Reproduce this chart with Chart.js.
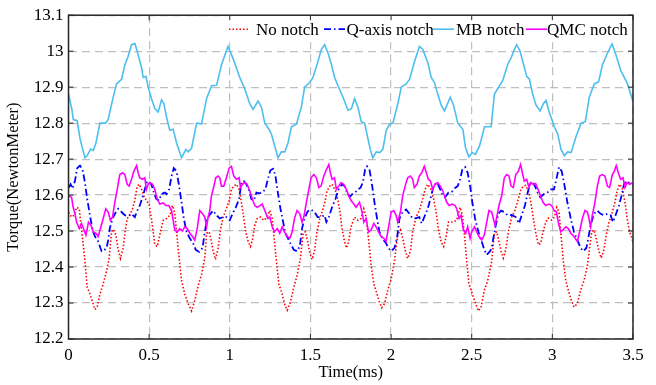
<!DOCTYPE html>
<html>
<head>
<meta charset="utf-8">
<script src="https://cdn.jsdelivr.net/npm/chart.js@4.4.1/dist/chart.umd.min.js"></script>
<style>
  html, body { margin: 0; padding: 0; background: #fff; }
</style>
</head>
<body>
<canvas id="chart" width="656" height="385"></canvas>
<script>
// tick values
const xTicks = [0, 0.5, 1, 1.5, 2, 2.5, 3, 3.5];
const yTicks = [12.2, 12.3, 12.4, 12.5, 12.6, 12.7, 12.8, 12.9, 13, 13.1];
const seriesNames = ['No notch', 'Q-axis notch', 'MB notch', 'QMC notch'];

// [time (ms), torque]
const noNotch = [[0,12.552],[0.019,12.539],[0.034,12.544],[0.05,12.566],[0.067,12.562],[0.075,12.525],[0.087,12.48],[0.102,12.416],[0.116,12.344],[0.133,12.325],[0.149,12.303],[0.164,12.282],[0.178,12.289],[0.195,12.325],[0.215,12.353],[0.236,12.389],[0.252,12.425],[0.267,12.498],[0.277,12.505],[0.294,12.489],[0.308,12.448],[0.322,12.424],[0.339,12.453],[0.351,12.498],[0.364,12.535],[0.38,12.544],[0.397,12.562],[0.411,12.585],[0.426,12.625],[0.438,12.63],[0.453,12.616],[0.467,12.598],[0.483,12.585],[0.5,12.575],[0.514,12.535],[0.525,12.498],[0.535,12.462],[0.55,12.457],[0.566,12.489],[0.587,12.53],[0.608,12.535],[0.629,12.544],[0.645,12.571],[0.659,12.548],[0.67,12.498],[0.686,12.425],[0.701,12.362],[0.721,12.325],[0.742,12.298],[0.763,12.278],[0.783,12.307],[0.804,12.348],[0.825,12.38],[0.845,12.425],[0.856,12.494],[0.872,12.498],[0.886,12.471],[0.897,12.444],[0.911,12.421],[0.928,12.453],[0.942,12.503],[0.959,12.539],[0.979,12.562],[0.996,12.585],[1.01,12.616],[1.025,12.625],[1.041,12.63],[1.058,12.616],[1.072,12.58],[1.087,12.535],[1.099,12.498],[1.114,12.471],[1.128,12.457],[1.14,12.475],[1.155,12.516],[1.17,12.535],[1.19,12.539],[1.211,12.53],[1.232,12.539],[1.248,12.557],[1.263,12.535],[1.273,12.489],[1.289,12.416],[1.304,12.353],[1.325,12.325],[1.339,12.298],[1.356,12.28],[1.376,12.303],[1.397,12.344],[1.417,12.376],[1.438,12.425],[1.455,12.494],[1.469,12.498],[1.483,12.471],[1.496,12.439],[1.51,12.421],[1.525,12.444],[1.541,12.498],[1.558,12.535],[1.572,12.553],[1.587,12.575],[1.603,12.612],[1.62,12.625],[1.634,12.63],[1.655,12.612],[1.669,12.589],[1.682,12.557],[1.696,12.507],[1.711,12.471],[1.723,12.453],[1.737,12.471],[1.752,12.512],[1.773,12.539],[1.794,12.53],[1.814,12.535],[1.831,12.562],[1.845,12.539],[1.86,12.48],[1.876,12.407],[1.893,12.353],[1.913,12.325],[1.928,12.303],[1.942,12.287],[1.959,12.298],[1.979,12.335],[2,12.366],[2.021,12.416],[2.041,12.489],[2.058,12.503],[2.072,12.48],[2.087,12.448],[2.103,12.424],[2.12,12.444],[2.134,12.498],[2.155,12.539],[2.175,12.557],[2.196,12.589],[2.211,12.616],[2.227,12.63],[2.248,12.616],[2.264,12.589],[2.279,12.553],[2.293,12.507],[2.31,12.471],[2.326,12.457],[2.341,12.484],[2.356,12.525],[2.38,12.525],[2.407,12.53],[2.428,12.566],[2.442,12.544],[2.455,12.489],[2.469,12.416],[2.483,12.353],[2.504,12.325],[2.521,12.303],[2.541,12.278],[2.558,12.289],[2.578,12.335],[2.599,12.362],[2.624,12.416],[2.64,12.494],[2.655,12.498],[2.669,12.471],[2.682,12.444],[2.696,12.425],[2.711,12.448],[2.727,12.498],[2.748,12.539],[2.768,12.557],[2.789,12.589],[2.805,12.616],[2.82,12.625],[2.834,12.627],[2.851,12.612],[2.867,12.58],[2.882,12.535],[2.896,12.498],[2.913,12.462],[2.928,12.466],[2.942,12.498],[2.959,12.525],[2.975,12.536],[2.996,12.53],[3.012,12.539],[3.027,12.566],[3.041,12.553],[3.052,12.498],[3.066,12.425],[3.083,12.362],[3.099,12.335],[3.114,12.312],[3.134,12.289],[3.155,12.298],[3.175,12.335],[3.196,12.362],[3.217,12.403],[3.231,12.453],[3.244,12.498],[3.258,12.503],[3.272,12.48],[3.289,12.444],[3.303,12.425],[3.32,12.448],[3.334,12.489],[3.351,12.525],[3.367,12.544],[3.388,12.58],[3.402,12.612],[3.417,12.63],[3.433,12.62],[3.45,12.58],[3.464,12.535],[3.479,12.498],[3.5,12.47]];

const qAxisNotch = [[0,12.62],[0.013,12.63],[0.025,12.618],[0.04,12.639],[0.054,12.675],[0.071,12.682],[0.087,12.671],[0.102,12.635],[0.116,12.589],[0.133,12.544],[0.149,12.503],[0.164,12.485],[0.184,12.471],[0.205,12.444],[0.219,12.446],[0.236,12.453],[0.246,12.475],[0.256,12.507],[0.273,12.535],[0.294,12.553],[0.308,12.562],[0.329,12.553],[0.349,12.544],[0.37,12.542],[0.391,12.548],[0.411,12.539],[0.426,12.557],[0.442,12.571],[0.459,12.594],[0.473,12.616],[0.488,12.639],[0.5,12.635],[0.514,12.63],[0.529,12.607],[0.545,12.589],[0.562,12.585],[0.576,12.603],[0.597,12.607],[0.608,12.603],[0.624,12.616],[0.639,12.653],[0.653,12.675],[0.67,12.666],[0.686,12.625],[0.701,12.58],[0.715,12.535],[0.732,12.498],[0.752,12.48],[0.773,12.466],[0.789,12.448],[0.81,12.442],[0.831,12.453],[0.845,12.498],[0.86,12.535],[0.88,12.548],[0.897,12.557],[0.917,12.544],[0.938,12.535],[0.959,12.539],[0.979,12.539],[1,12.53],[1.017,12.548],[1.037,12.566],[1.058,12.589],[1.072,12.635],[1.087,12.639],[1.103,12.63],[1.12,12.612],[1.134,12.589],[1.149,12.585],[1.165,12.607],[1.185,12.605],[1.201,12.607],[1.221,12.616],[1.236,12.644],[1.252,12.669],[1.269,12.673],[1.283,12.653],[1.298,12.607],[1.314,12.562],[1.331,12.525],[1.345,12.494],[1.366,12.475],[1.38,12.462],[1.397,12.448],[1.417,12.444],[1.434,12.457],[1.448,12.507],[1.463,12.535],[1.483,12.555],[1.504,12.56],[1.525,12.553],[1.545,12.539],[1.566,12.539],[1.587,12.544],[1.599,12.525],[1.614,12.539],[1.634,12.566],[1.655,12.589],[1.675,12.616],[1.696,12.63],[1.711,12.625],[1.727,12.607],[1.745,12.596],[1.765,12.605],[1.777,12.607],[1.794,12.616],[1.81,12.62],[1.825,12.635],[1.839,12.671],[1.851,12.68],[1.866,12.671],[1.88,12.635],[1.897,12.58],[1.913,12.535],[1.928,12.498],[1.948,12.478],[1.969,12.466],[1.983,12.453],[2,12.444],[2.021,12.453],[2.037,12.48],[2.052,12.535],[2.072,12.553],[2.093,12.56],[2.114,12.548],[2.134,12.535],[2.155,12.536],[2.175,12.539],[2.19,12.521],[2.206,12.539],[2.227,12.562],[2.244,12.589],[2.264,12.625],[2.285,12.635],[2.305,12.616],[2.32,12.598],[2.335,12.594],[2.356,12.607],[2.376,12.609],[2.397,12.62],[2.413,12.625],[2.428,12.644],[2.442,12.671],[2.459,12.678],[2.475,12.662],[2.49,12.625],[2.504,12.58],[2.521,12.535],[2.541,12.498],[2.562,12.471],[2.578,12.448],[2.593,12.434],[2.614,12.444],[2.624,12.453],[2.634,12.48],[2.649,12.516],[2.665,12.548],[2.682,12.557],[2.702,12.553],[2.723,12.544],[2.748,12.545],[2.773,12.539],[2.793,12.521],[2.81,12.544],[2.83,12.571],[2.847,12.607],[2.861,12.63],[2.876,12.635],[2.892,12.625],[2.909,12.607],[2.925,12.594],[2.948,12.603],[2.969,12.607],[2.99,12.616],[3.01,12.616],[3.025,12.644],[3.041,12.678],[3.058,12.666],[3.072,12.635],[3.093,12.58],[3.114,12.535],[3.134,12.498],[3.155,12.475],[3.175,12.453],[3.192,12.444],[3.211,12.453],[3.223,12.48],[3.237,12.516],[3.258,12.548],[3.279,12.557],[3.299,12.548],[3.32,12.544],[3.341,12.548],[3.361,12.544],[3.376,12.525],[3.392,12.544],[3.413,12.571],[3.429,12.598],[3.444,12.63],[3.458,12.639],[3.475,12.635],[3.5,12.63]];

const mbNotch = [[0,12.881],[0.02,12.84],[0.03,12.81],[0.054,12.807],[0.071,12.758],[0.088,12.727],[0.102,12.704],[0.116,12.71],[0.137,12.728],[0.154,12.724],[0.17,12.745],[0.195,12.8],[0.23,12.8],[0.246,12.81],[0.277,12.872],[0.298,12.909],[0.329,12.922],[0.35,12.963],[0.37,12.986],[0.391,13.018],[0.412,13.021],[0.432,12.99],[0.453,12.954],[0.463,12.927],[0.48,12.93],[0.494,12.9],[0.515,12.868],[0.536,12.84],[0.556,12.831],[0.577,12.865],[0.591,12.854],[0.612,12.808],[0.628,12.78],[0.649,12.783],[0.67,12.745],[0.701,12.704],[0.728,12.727],[0.742,12.72],[0.763,12.73],[0.794,12.8],[0.825,12.798],[0.856,12.868],[0.887,12.904],[0.918,12.905],[0.949,12.963],[0.989,13.013],[1.02,12.98],[1.062,12.927],[1.093,12.895],[1.124,12.854],[1.144,12.838],[1.175,12.861],[1.196,12.845],[1.217,12.8],[1.243,12.783],[1.258,12.77],[1.279,12.736],[1.299,12.704],[1.32,12.72],[1.341,12.72],[1.361,12.745],[1.382,12.79],[1.413,12.797],[1.444,12.845],[1.464,12.9],[1.495,12.913],[1.516,12.927],[1.547,12.972],[1.568,13.005],[1.588,13.018],[1.609,12.995],[1.63,12.963],[1.65,12.927],[1.671,12.904],[1.702,12.872],[1.733,12.836],[1.754,12.84],[1.774,12.868],[1.794,12.845],[1.815,12.804],[1.836,12.8],[1.856,12.758],[1.871,12.727],[1.887,12.704],[1.908,12.72],[1.929,12.718],[1.949,12.727],[1.97,12.78],[1.991,12.797],[2.011,12.8],[2.042,12.854],[2.063,12.9],[2.094,12.909],[2.115,12.922],[2.146,12.972],[2.176,13.013],[2.197,13.005],[2.228,12.968],[2.249,12.927],[2.269,12.913],[2.29,12.88],[2.311,12.85],[2.331,12.834],[2.367,12.872],[2.387,12.85],[2.414,12.8],[2.445,12.783],[2.461,12.733],[2.482,12.706],[2.503,12.718],[2.523,12.713],[2.548,12.736],[2.568,12.77],[2.579,12.79],[2.62,12.79],[2.641,12.881],[2.672,12.904],[2.692,12.918],[2.723,12.963],[2.744,12.981],[2.765,13.005],[2.779,13.018],[2.8,13],[2.816,12.972],[2.841,12.93],[2.858,12.922],[2.878,12.88],[2.899,12.85],[2.924,12.834],[2.944,12.854],[2.961,12.863],[2.981,12.83],[3.012,12.79],[3.033,12.77],[3.054,12.727],[3.074,12.71],[3.095,12.72],[3.116,12.718],[3.147,12.763],[3.178,12.8],[3.204,12.804],[3.229,12.872],[3.26,12.909],[3.287,12.915],[3.311,12.963],[3.342,12.995],[3.37,13.02],[3.394,12.99],[3.425,12.945],[3.446,12.927],[3.466,12.909],[3.5,12.86]];

const qmcNotch = [[0,12.598],[0.019,12.594],[0.029,12.566],[0.04,12.548],[0.05,12.525],[0.067,12.507],[0.081,12.521],[0.096,12.503],[0.108,12.489],[0.124,12.525],[0.139,12.516],[0.153,12.498],[0.169,12.494],[0.184,12.485],[0.198,12.507],[0.215,12.535],[0.231,12.562],[0.246,12.553],[0.26,12.53],[0.273,12.539],[0.287,12.58],[0.302,12.616],[0.318,12.657],[0.335,12.662],[0.349,12.657],[0.364,12.63],[0.376,12.625],[0.391,12.644],[0.405,12.666],[0.422,12.682],[0.432,12.662],[0.442,12.648],[0.459,12.644],[0.473,12.648],[0.483,12.616],[0.494,12.63],[0.504,12.635],[0.521,12.63],[0.535,12.616],[0.55,12.589],[0.566,12.575],[0.587,12.578],[0.604,12.571],[0.622,12.571],[0.639,12.557],[0.649,12.53],[0.659,12.503],[0.674,12.498],[0.69,12.507],[0.707,12.5],[0.721,12.512],[0.736,12.507],[0.752,12.494],[0.769,12.485],[0.783,12.475],[0.798,12.507],[0.814,12.557],[0.831,12.548],[0.845,12.539],[0.856,12.512],[0.866,12.539],[0.876,12.557],[0.886,12.598],[0.897,12.616],[0.913,12.648],[0.928,12.653],[0.938,12.648],[0.948,12.625],[0.963,12.625],[0.979,12.648],[0.996,12.675],[1.01,12.68],[1.025,12.653],[1.041,12.644],[1.058,12.648],[1.066,12.621],[1.078,12.63],[1.093,12.635],[1.107,12.63],[1.124,12.612],[1.14,12.589],[1.155,12.571],[1.169,12.566],[1.185,12.57],[1.201,12.575],[1.221,12.553],[1.236,12.535],[1.248,12.539],[1.263,12.512],[1.277,12.498],[1.294,12.507],[1.31,12.494],[1.325,12.512],[1.339,12.498],[1.356,12.485],[1.372,12.48],[1.387,12.498],[1.401,12.535],[1.417,12.557],[1.434,12.548],[1.448,12.525],[1.459,12.539],[1.475,12.58],[1.49,12.616],[1.504,12.648],[1.521,12.657],[1.537,12.648],[1.552,12.621],[1.566,12.625],[1.583,12.653],[1.599,12.671],[1.614,12.685],[1.624,12.662],[1.634,12.644],[1.649,12.648],[1.661,12.616],[1.675,12.625],[1.69,12.635],[1.706,12.63],[1.723,12.616],[1.737,12.598],[1.752,12.585],[1.769,12.575],[1.783,12.566],[1.804,12.58],[1.818,12.557],[1.831,12.525],[1.845,12.535],[1.86,12.498],[1.876,12.503],[1.893,12.521],[1.907,12.512],[1.922,12.498],[1.938,12.485],[1.955,12.48],[1.969,12.471],[1.983,12.507],[2,12.553],[2.017,12.557],[2.031,12.544],[2.041,12.525],[2.058,12.553],[2.072,12.598],[2.087,12.625],[2.103,12.648],[2.12,12.653],[2.134,12.644],[2.144,12.621],[2.161,12.63],[2.175,12.653],[2.19,12.662],[2.206,12.68],[2.219,12.662],[2.231,12.644],[2.244,12.639],[2.258,12.616],[2.272,12.63],[2.289,12.635],[2.305,12.625],[2.32,12.612],[2.334,12.594],[2.345,12.58],[2.36,12.571],[2.38,12.575],[2.397,12.571],[2.407,12.562],[2.422,12.535],[2.434,12.544],[2.448,12.503],[2.463,12.494],[2.475,12.512],[2.49,12.48],[2.5,12.498],[2.517,12.512],[2.531,12.498],[2.545,12.485],[2.562,12.475],[2.578,12.489],[2.593,12.525],[2.607,12.557],[2.624,12.553],[2.634,12.535],[2.645,12.516],[2.655,12.539],[2.669,12.571],[2.686,12.598],[2.702,12.648],[2.717,12.657],[2.731,12.653],[2.744,12.625],[2.758,12.621],[2.773,12.657],[2.789,12.666],[2.803,12.685],[2.814,12.662],[2.826,12.639],[2.841,12.644],[2.855,12.621],[2.867,12.635],[2.882,12.63],[2.896,12.632],[2.913,12.614],[2.928,12.596],[2.942,12.58],[2.959,12.571],[2.979,12.575],[2.996,12.571],[3.01,12.557],[3.025,12.553],[3.041,12.516],[3.052,12.498],[3.066,12.503],[3.083,12.512],[3.099,12.507],[3.114,12.494],[3.134,12.485],[3.155,12.471],[3.169,12.498],[3.186,12.535],[3.202,12.557],[3.217,12.553],[3.227,12.535],[3.237,12.512],[3.248,12.544],[3.264,12.58],[3.279,12.625],[3.293,12.653],[3.31,12.657],[3.326,12.653],[3.341,12.625],[3.355,12.621],[3.372,12.657],[3.384,12.666],[3.396,12.682],[3.409,12.662],[3.423,12.644],[3.438,12.648],[3.45,12.621],[3.464,12.635],[3.479,12.63],[3.5,12.635]];

const FONT = "'Liberation Serif', 'Times New Roman', serif";
const INK = '#262626';
const GRID = '#bfbfbf';

function toPoints(rows) {
    return rows.map((r) => ({ x: r[0], y: r[1] }));
}

// box round the axes with inward ticks, plus the legend in the top right corner
const framePlugin = {
    id: 'frame',
    afterDraw(chart) {
        const { ctx, chartArea: a, scales: { x, y } } = chart;
        ctx.save();

        // legend
        const legX = 226, legH = 27;
        ctx.fillStyle = '#fff';
        ctx.fillRect(legX, a.top, a.right - legX, legH);
        const sampleX = [229, 324, 433, 526];
        const textX = [256, 346.5, 456, 547];
        const ly = a.top + 14;
        ctx.font = '17px ' + FONT;
        ctx.textBaseline = 'alphabetic';
        chart.data.datasets.forEach((ds, i) => {
            ctx.beginPath();
            ctx.strokeStyle = ds.borderColor;
            ctx.lineWidth = ds.borderWidth;
            ctx.setLineDash(ds.borderDash || []);
            ctx.moveTo(sampleX[i], ly);
            ctx.lineTo(sampleX[i] + 21, ly);
            ctx.stroke();
            ctx.setLineDash([]);
            ctx.fillStyle = '#000';
            ctx.fillText(ds.label, textX[i], a.top + 20);
        });

        // frame
        ctx.strokeStyle = INK;
        ctx.lineWidth = 1.5;
        ctx.strokeRect(a.left, a.top, a.right - a.left, a.bottom - a.top);

        // inward ticks
        ctx.lineWidth = 1;
        const tl = 5;
        ctx.beginPath();
        xTicks.forEach((v) => {
            const px = x.getPixelForValue(v);
            ctx.moveTo(px, a.bottom); ctx.lineTo(px, a.bottom - tl);
            ctx.moveTo(px, a.top); ctx.lineTo(px, a.top + tl);
        });
        yTicks.forEach((v) => {
            const py = y.getPixelForValue(v);
            ctx.moveTo(a.left, py); ctx.lineTo(a.left + tl, py);
            ctx.moveTo(a.right, py); ctx.lineTo(a.right - tl, py);
        });
        ctx.stroke();
        ctx.restore();
    }
};

const ctx = document.getElementById('chart').getContext('2d');
const torqueChart = new Chart(ctx, {
    type: 'line',
    data: {
        datasets: [
            {
                label: seriesNames[0],
                data: toPoints(noNotch),
                borderColor: 'rgb(255,0,0)',
                borderWidth: 1.6,
                borderDash: [1.5, 2],
                order: 4,
            },
            {
                label: seriesNames[1],
                data: toPoints(qAxisNotch),
                borderColor: 'rgb(0,0,255)',
                borderWidth: 1.8,
                borderDash: [7, 3, 1.5, 3],
                order: 3,
            },
            {
                label: seriesNames[2],
                data: toPoints(mbNotch),
                borderColor: 'rgb(77,190,238)',
                borderWidth: 1.6,
                order: 2,
            },
            {
                label: seriesNames[3],
                data: toPoints(qmcNotch),
                borderColor: 'rgb(255,0,255)',
                borderWidth: 1.6,
                order: 1,
            },
        ],
    },
    options: {
        responsive: false,
        animation: false,
        devicePixelRatio: 1,
        layout: { padding: { left: 0, right: 23, top: 10, bottom: 0 } },
        elements: {
            point: { radius: 0, hoverRadius: 0 },
            line: { tension: 0, fill: false },
        },
        plugins: {
            legend: { display: false },
            tooltip: { enabled: false },
        },
        scales: {
            x: {
                type: 'linear',
                min: 0,
                max: 3.5,
                afterBuildTicks: (s) => { s.ticks = xTicks.map((v) => ({ value: v })); },
                afterFit: (s) => { s.height = 46; },
                ticks: {
                    padding: 6,
                    color: '#000',
                    maxRotation: 0,
                    autoSkip: false,
                    font: { family: FONT, size: 17 },
                    callback: (v) => String(v),
                },
                grid: { color: GRID, lineWidth: 1.2, drawTicks: false },
                border: { display: false, dash: [8, 5] },
                title: {
                    display: true,
                    text: 'Time(ms)',
                    color: '#000',
                    font: { family: FONT, size: 16.5 },
                    padding: { top: 0, bottom: 2 },
                },
            },
            y: {
                type: 'linear',
                min: 12.2,
                max: 13.1,
                afterBuildTicks: (s) => { s.ticks = yTicks.map((v) => ({ value: v })); },
                afterFit: (s) => { s.width = 68.5; },
                ticks: {
                    padding: 5,
                    color: '#000',
                    font: { family: FONT, size: 17 },
                    callback: (v) => String(Math.round(v * 10) / 10),
                },
                grid: { color: GRID, lineWidth: 1.2, drawTicks: false },
                border: { display: false, dash: [8, 5] },
                title: {
                    display: true,
                    text: 'Torque(NewtonMeter)',
                    color: '#000',
                    font: { family: FONT, size: 16.5 },
                    padding: { top: 4, bottom: 0 },
                },
            },
        },
    },
    plugins: [framePlugin],
});
</script>
</body>
</html>
